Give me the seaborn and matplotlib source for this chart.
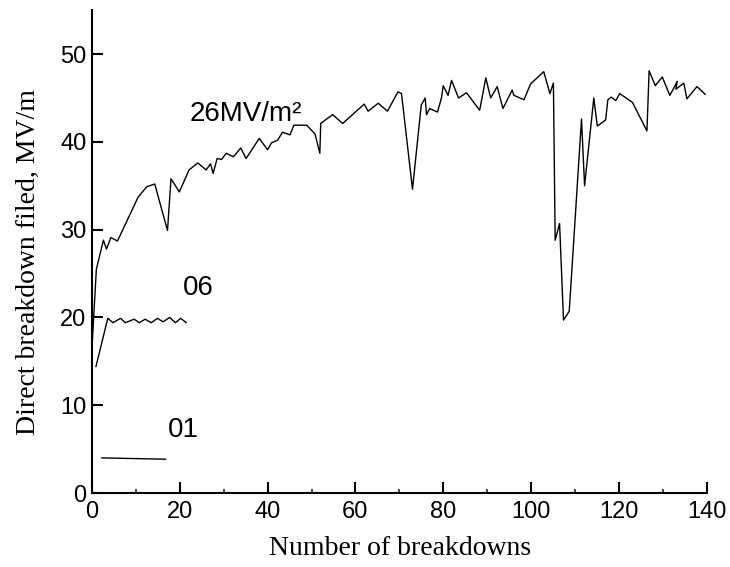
import numpy as np
import pandas as pd
import matplotlib
matplotlib.use('Agg')
import matplotlib.pyplot as plt
import seaborn as sns
from matplotlib.ticker import MultipleLocator

sns.set_style('ticks')
plt.rcParams['font.family'] = ['Liberation Sans Narrow', 'Liberation Sans', 'DejaVu Sans']
plt.rcParams['text.color'] = 'black'
plt.rcParams['axes.labelcolor'] = 'black'

# 2.6 MV/m^2 series
x_26 = [0, 1.0, 2.6, 3.3, 4.3, 5.8, 10.5, 12.5, 14.3, 17.2, 18.0, 19.9, 22.1, 24.1,
        26.0, 27.0, 27.6, 28.5, 29.5, 30.6, 32.2, 33.9, 35.1, 38.1, 40.0, 40.9, 42.3,
        43.4, 45.1, 46.0, 48.9, 50.8, 51.9, 52.1, 54.8, 57.1, 62.0, 62.9, 65.2, 67.3,
        69.7, 70.5, 73.0, 75.0, 75.9, 76.2, 76.9, 78.7, 79.6, 80.0, 81.1, 81.9, 83.5,
        85.3, 88.3, 89.7, 90.8, 92.3, 93.6, 95.7, 96.1, 98.4, 99.9, 102.9, 104.3, 105.1,
        105.5, 106.5, 107.4, 108.7, 111.5, 112.2, 114.3, 115.1, 117.0, 117.5, 118.3,
        119.3, 120.2, 123.1, 126.4, 126.9, 128.3, 129.9, 131.6, 132.5, 133.3, 133.0,
        134.8, 135.5, 137.8, 139.7]
y_26 = [16.6, 25.5, 28.8, 27.8, 29.1, 28.7, 33.7, 34.9, 35.2, 29.9, 35.8, 34.3, 36.8, 37.6,
        36.8, 37.5, 36.4, 38.1, 38.0, 38.7, 38.3, 39.3, 38.1, 40.4, 39.1, 39.9, 40.2,
        41.1, 40.8, 41.9, 41.9, 40.9, 38.7, 42.1, 43.1, 42.1, 44.3, 43.5, 44.4, 43.5,
        45.7, 45.5, 34.6, 44.2, 45.0, 43.1, 43.8, 43.4, 45.0, 46.4, 45.3, 47.0, 45.0,
        45.6, 43.6, 47.3, 45.0, 46.3, 43.8, 45.9, 45.3, 44.8, 46.6, 48.0, 45.5, 46.7,
        28.8, 30.7, 19.7, 20.7, 42.6, 35.0, 45.0, 41.8, 42.5, 44.8, 45.1,
        44.7, 45.5, 44.5, 41.25, 48.1, 46.4, 47.4, 45.3, 46.1, 46.9, 46.0,
        46.7, 44.9, 46.3, 45.4]

# 0.6 series
x_06 = [0.9, 3.6, 4.8, 6.5, 7.6, 9.6, 10.8, 12.1, 13.5, 14.9, 16.2, 17.7, 19.0, 20.2, 21.5]
y_06 = [14.4, 19.9, 19.4, 19.9, 19.4, 19.8, 19.4, 19.8, 19.4, 19.9, 19.5, 20.0, 19.4, 19.9, 19.4]

# 0.1 series
x_01 = [2.2, 16.8]
y_01 = [4.0, 3.85]

labels = ['26MV/m²', '06', '01']
label_xy = [(22.3, 43.2), (20.7, 23.4), (17.3, 7.2)]

fig = plt.figure(figsize=(7.3, 5.67), dpi=100)
ax = fig.add_axes([0.126, 0.1305, 0.842, 0.8515])

for xs, ys in [(x_26, y_26), (x_06, y_06), (x_01, y_01)]:
    d = pd.DataFrame({'x': xs, 'y': ys})
    sns.lineplot(data=d, x='x', y='y', ax=ax, color='black', lw=1,
                 sort=False, estimator=None, clip_on=False)

for t, (tx, ty) in zip(labels, label_xy):
    ax.text(tx, ty, t, fontsize=20, ha='left', va='center', color='black')

ax.set_xlim(0, 140)
ax.set_ylim(0, 55)
ax.xaxis.set_major_locator(MultipleLocator(20))
ax.xaxis.set_minor_locator(MultipleLocator(10))
ax.yaxis.set_major_locator(MultipleLocator(10))
ax.tick_params(axis='both', which='major', direction='in', length=8, width=1.5,
               labelsize=17, pad=4, colors='black')
ax.tick_params(axis='x', which='major', pad=6)
ax.tick_params(axis='x', which='minor', direction='in', length=3, width=1.2)
sns.despine(ax=ax)
for s in ['left', 'bottom']:
    ax.spines[s].set_linewidth(1.5)
    ax.spines[s].set_color('black')

serif = ['Liberation Serif', 'DejaVu Serif']
ax.set_xlabel('Number of breakdowns', fontsize=20, family=serif, va='center')
ax.set_ylabel('Direct breakdown filed, MV/m', fontsize=20, family=serif, va='center')
ax.xaxis.set_label_coords(0.502, -0.114)
ax.yaxis.set_label_coords(-0.104, 0.478)

fig.savefig('out.png', dpi=100)
